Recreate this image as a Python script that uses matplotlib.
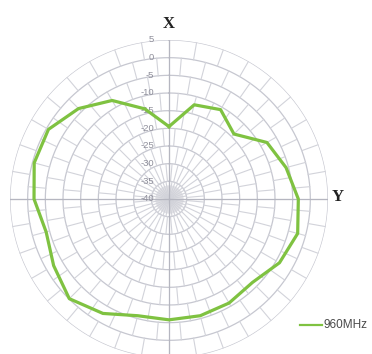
import numpy as np
import matplotlib
matplotlib.use("Agg")
import matplotlib.pyplot as plt
import matplotlib.transforms as mtransforms

# ---- data ----
angles_deg = [0, 15, 30, 45, 60, 75, 90, 105, 120, 135, 150, 165,
              180, 195, 210, 225, 240, 255, 270, 285, 300, 315, 330, 345]
gain_960 = [-19.5, -12.4, -10.8, -14.0, -8.0, -5.7, -3.4, -2.3, -3.9, -6.6, -6.0, -5.8,
            -5.8, -5.8, -2.6, -0.1, -2.3, -4.0, -1.8, -0.5, -0.6, -3.8, -7.8, -13.6]
ring_values = [5, 0, -5, -10, -15, -20, -25, -30, -35, -40]
ring_labels = ["5", "0", "-5", "-10", "-15", "-20", "-25", "-30", "-35", "-40"]
series_name = "960MHz"
rmin, rmax = -40, 5

fig = plt.figure(figsize=(3.72, 3.54), dpi=100)
W, H = 372, 354
cx, cy, R = 169, 199, 159
ax = fig.add_axes([(cx - R) / W, (H - cy - R) / H, 2 * R / W, 2 * R / H], projection="polar")
ax.set_theta_zero_location("N")
ax.set_theta_direction(-1)
ax.set_ylim(rmin, rmax)
ax.grid(False)
ax.set_xticks([])
ax.set_yticks([])
ax.spines["polar"].set_visible(False)
ax.patch.set_alpha(0)

grid_col = "#c6c7d0"
spoke_col = "#d2d3da"
tt = np.linspace(0, 2 * np.pi, 361)
for v in ring_values[:-1]:
    ax.plot(tt, np.full_like(tt, v), color=grid_col, lw=0.9, zorder=1)

# soft grey hub where the spokes converge
ax.fill_between(tt, rmin, rmin + 4, color="#e2e2e6", lw=0, zorder=0.5)

# staggered radial segments (brick-like pattern)
rv = sorted(ring_values)
for k in range(len(rv) - 1):
    off = 5 if k % 2 else 0
    for a in range(0, 360, 10):
        th = np.deg2rad(a + off)
        ax.plot([th, th], [rv[k], rv[k + 1]], color=spoke_col, lw=0.8, zorder=1)
# main axes cross
for a in [0, 90, 180, 270]:
    th = np.deg2rad(a)
    ax.plot([th, th], [rmin, rmax], color="#b5b6c0", lw=0.9, zorder=1.5)

# ring labels
offs = mtransforms.ScaledTranslation(-15 / 100, 0, fig.dpi_scale_trans)
for v, lab in zip(ring_values, ring_labels):
    ax.text(0, v, lab, transform=ax.transData + offs, ha="right", va="center",
            fontsize=6.8, color="#8e8e9a", family="Liberation Sans", zorder=3)

# data line
th = np.deg2rad(angles_deg + [angles_deg[0]])
vals = gain_960 + [gain_960[0]]
ax.plot(th, vals, color="#7fc241", lw=2.3, zorder=4, solid_joinstyle="round")

# axis names
fig.text(cx / W, 1 - 24 / H, "X", ha="center", va="center", fontsize=12,
         fontweight="bold", family="Liberation Serif", color="#222222")
fig.text(338 / W, 1 - 197 / H, "Y", ha="center", va="center", fontsize=12,
         fontweight="bold", family="Liberation Serif", color="#222222")

# legend
fig.lines.append(plt.Line2D([300 / W, 322 / W], [1 - 325 / H, 1 - 325 / H],
                            transform=fig.transFigure, color="#7fc241", lw=1.6))
fig.text(323 / W, 1 - 325 / H, series_name, ha="left", va="center", fontsize=8.5,
         family="Liberation Sans", color="#4a4a4a")

fig.savefig("out.png", dpi=100)
